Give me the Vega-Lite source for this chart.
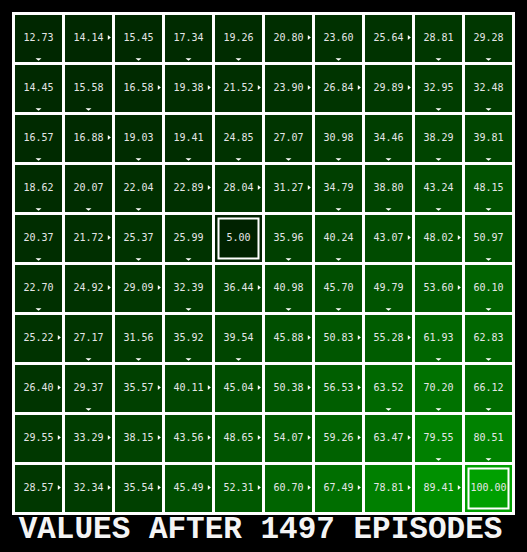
{
  "$schema": "https://vega.github.io/schema/vega-lite/v6.json",
  "width": 500,
  "height": 500,
  "autosize": {"type": "none"},
  "padding": {"left": 13.5, "top": 13.5, "right": 13.5, "bottom": 38.5},
  "background": "#000000",
  "config": {"view": {"stroke": null}},
  "title": {
    "text": "VALUES AFTER 1497 EPISODES",
    "orient": "bottom",
    "anchor": "middle",
    "font": "Liberation Mono",
    "fontSize": 31,
    "fontWeight": "bold",
    "color": "#f4f4f4",
    "baseline": "alphabetic",
    "offset": 23,
    "dx": -3
  },
  "data": {
    "values": [
      {"r": 0, "c": 0, "v": 12.73, "d": "D", "s": 0},
      {"r": 0, "c": 1, "v": 14.14, "d": "R", "s": 0},
      {"r": 0, "c": 2, "v": 15.45, "d": "D", "s": 0},
      {"r": 0, "c": 3, "v": 17.34, "d": "D", "s": 0},
      {"r": 0, "c": 4, "v": 19.26, "d": "D", "s": 0},
      {"r": 0, "c": 5, "v": 20.80, "d": "R", "s": 0},
      {"r": 0, "c": 6, "v": 23.60, "d": "D", "s": 0},
      {"r": 0, "c": 7, "v": 25.64, "d": "R", "s": 0},
      {"r": 0, "c": 8, "v": 28.81, "d": "D", "s": 0},
      {"r": 0, "c": 9, "v": 29.28, "d": "D", "s": 0},
      {"r": 1, "c": 0, "v": 14.45, "d": "D", "s": 0},
      {"r": 1, "c": 1, "v": 15.58, "d": "D", "s": 0},
      {"r": 1, "c": 2, "v": 16.58, "d": "R", "s": 0},
      {"r": 1, "c": 3, "v": 19.38, "d": "R", "s": 0},
      {"r": 1, "c": 4, "v": 21.52, "d": "R", "s": 0},
      {"r": 1, "c": 5, "v": 23.90, "d": "R", "s": 0},
      {"r": 1, "c": 6, "v": 26.84, "d": "R", "s": 0},
      {"r": 1, "c": 7, "v": 29.89, "d": "R", "s": 0},
      {"r": 1, "c": 8, "v": 32.95, "d": "D", "s": 0},
      {"r": 1, "c": 9, "v": 32.48, "d": "D", "s": 0},
      {"r": 2, "c": 0, "v": 16.57, "d": "D", "s": 0},
      {"r": 2, "c": 1, "v": 16.88, "d": "R", "s": 0},
      {"r": 2, "c": 2, "v": 19.03, "d": "D", "s": 0},
      {"r": 2, "c": 3, "v": 19.41, "d": "D", "s": 0},
      {"r": 2, "c": 4, "v": 24.85, "d": "D", "s": 0},
      {"r": 2, "c": 5, "v": 27.07, "d": "D", "s": 0},
      {"r": 2, "c": 6, "v": 30.98, "d": "D", "s": 0},
      {"r": 2, "c": 7, "v": 34.46, "d": "D", "s": 0},
      {"r": 2, "c": 8, "v": 38.29, "d": "D", "s": 0},
      {"r": 2, "c": 9, "v": 39.81, "d": "D", "s": 0},
      {"r": 3, "c": 0, "v": 18.62, "d": "D", "s": 0},
      {"r": 3, "c": 1, "v": 20.07, "d": "D", "s": 0},
      {"r": 3, "c": 2, "v": 22.04, "d": "D", "s": 0},
      {"r": 3, "c": 3, "v": 22.89, "d": "R", "s": 0},
      {"r": 3, "c": 4, "v": 28.04, "d": "R", "s": 0},
      {"r": 3, "c": 5, "v": 31.27, "d": "R", "s": 0},
      {"r": 3, "c": 6, "v": 34.79, "d": "D", "s": 0},
      {"r": 3, "c": 7, "v": 38.80, "d": "D", "s": 0},
      {"r": 3, "c": 8, "v": 43.24, "d": "D", "s": 0},
      {"r": 3, "c": 9, "v": 48.15, "d": "D", "s": 0},
      {"r": 4, "c": 0, "v": 20.37, "d": "D", "s": 0},
      {"r": 4, "c": 1, "v": 21.72, "d": "R", "s": 0},
      {"r": 4, "c": 2, "v": 25.37, "d": "D", "s": 0},
      {"r": 4, "c": 3, "v": 25.99, "d": "D", "s": 0},
      {"r": 4, "c": 4, "v": 5.00, "d": "N", "s": 1},
      {"r": 4, "c": 5, "v": 35.96, "d": "D", "s": 0},
      {"r": 4, "c": 6, "v": 40.24, "d": "D", "s": 0},
      {"r": 4, "c": 7, "v": 43.07, "d": "R", "s": 0},
      {"r": 4, "c": 8, "v": 48.02, "d": "R", "s": 0},
      {"r": 4, "c": 9, "v": 50.97, "d": "D", "s": 0},
      {"r": 5, "c": 0, "v": 22.70, "d": "D", "s": 0},
      {"r": 5, "c": 1, "v": 24.92, "d": "R", "s": 0},
      {"r": 5, "c": 2, "v": 29.09, "d": "R", "s": 0},
      {"r": 5, "c": 3, "v": 32.39, "d": "D", "s": 0},
      {"r": 5, "c": 4, "v": 36.44, "d": "R", "s": 0},
      {"r": 5, "c": 5, "v": 40.98, "d": "D", "s": 0},
      {"r": 5, "c": 6, "v": 45.70, "d": "D", "s": 0},
      {"r": 5, "c": 7, "v": 49.79, "d": "D", "s": 0},
      {"r": 5, "c": 8, "v": 53.60, "d": "R", "s": 0},
      {"r": 5, "c": 9, "v": 60.10, "d": "D", "s": 0},
      {"r": 6, "c": 0, "v": 25.22, "d": "R", "s": 0},
      {"r": 6, "c": 1, "v": 27.17, "d": "D", "s": 0},
      {"r": 6, "c": 2, "v": 31.56, "d": "D", "s": 0},
      {"r": 6, "c": 3, "v": 35.92, "d": "D", "s": 0},
      {"r": 6, "c": 4, "v": 39.54, "d": "D", "s": 0},
      {"r": 6, "c": 5, "v": 45.88, "d": "R", "s": 0},
      {"r": 6, "c": 6, "v": 50.83, "d": "R", "s": 0},
      {"r": 6, "c": 7, "v": 55.28, "d": "R", "s": 0},
      {"r": 6, "c": 8, "v": 61.93, "d": "D", "s": 0},
      {"r": 6, "c": 9, "v": 62.83, "d": "D", "s": 0},
      {"r": 7, "c": 0, "v": 26.40, "d": "R", "s": 0},
      {"r": 7, "c": 1, "v": 29.37, "d": "D", "s": 0},
      {"r": 7, "c": 2, "v": 35.57, "d": "R", "s": 0},
      {"r": 7, "c": 3, "v": 40.11, "d": "R", "s": 0},
      {"r": 7, "c": 4, "v": 45.04, "d": "R", "s": 0},
      {"r": 7, "c": 5, "v": 50.38, "d": "R", "s": 0},
      {"r": 7, "c": 6, "v": 56.53, "d": "R", "s": 0},
      {"r": 7, "c": 7, "v": 63.52, "d": "D", "s": 0},
      {"r": 7, "c": 8, "v": 70.20, "d": "D", "s": 0},
      {"r": 7, "c": 9, "v": 66.12, "d": "D", "s": 0},
      {"r": 8, "c": 0, "v": 29.55, "d": "R", "s": 0},
      {"r": 8, "c": 1, "v": 33.29, "d": "R", "s": 0},
      {"r": 8, "c": 2, "v": 38.15, "d": "R", "s": 0},
      {"r": 8, "c": 3, "v": 43.56, "d": "R", "s": 0},
      {"r": 8, "c": 4, "v": 48.65, "d": "R", "s": 0},
      {"r": 8, "c": 5, "v": 54.07, "d": "R", "s": 0},
      {"r": 8, "c": 6, "v": 59.26, "d": "R", "s": 0},
      {"r": 8, "c": 7, "v": 63.47, "d": "R", "s": 0},
      {"r": 8, "c": 8, "v": 79.55, "d": "D", "s": 0},
      {"r": 8, "c": 9, "v": 80.51, "d": "D", "s": 0},
      {"r": 9, "c": 0, "v": 28.57, "d": "R", "s": 0},
      {"r": 9, "c": 1, "v": 32.34, "d": "R", "s": 0},
      {"r": 9, "c": 2, "v": 35.54, "d": "R", "s": 0},
      {"r": 9, "c": 3, "v": 45.49, "d": "R", "s": 0},
      {"r": 9, "c": 4, "v": 52.31, "d": "R", "s": 0},
      {"r": 9, "c": 5, "v": 60.70, "d": "R", "s": 0},
      {"r": 9, "c": 6, "v": 67.49, "d": "R", "s": 0},
      {"r": 9, "c": 7, "v": 78.81, "d": "R", "s": 0},
      {"r": 9, "c": 8, "v": 89.41, "d": "R", "s": 0},
      {"r": 9, "c": 9, "v": 100.00, "d": "N", "s": 1}
    ]
  },
  "encoding": {
    "x": {"field": "c", "type": "ordinal", "axis": null, "scale": {"type": "band", "paddingInner": 0, "paddingOuter": 0}},
    "y": {"field": "r", "type": "ordinal", "axis": null, "scale": {"type": "band", "paddingInner": 0, "paddingOuter": 0}}
  },
  "layer": [
    {
      "mark": {"type": "rect", "stroke": "#ffffff", "strokeWidth": 3},
      "encoding": {
        "fill": {"field": "v", "type": "quantitative", "legend": null, "scale": {"domain": [0, 100], "range": ["#000000", "#00a000"]}}
      }
    },
    {
      "transform": [{"filter": "datum.s == 1"}],
      "mark": {"type": "point", "shape": "square", "size": 1600, "filled": false, "stroke": "#ffffff", "strokeWidth": 2, "opacity": 1}
    },
    {
      "mark": {"type": "text", "font": "DejaVu Sans Mono", "fontSize": 10, "color": "#e6e6e6", "baseline": "middle", "align": "center", "dy": -1},
      "encoding": {"text": {"field": "v", "type": "quantitative", "format": ".2f"}}
    },
    {
      "transform": [{"filter": "datum.d == 'D'"}],
      "mark": {"type": "point", "shape": "M-1,-0.4L1,-0.4L0,0.4Z", "size": 36, "filled": true, "fill": "#ffffff", "strokeWidth": 0, "opacity": 1, "yOffset": 21}
    },
    {
      "transform": [{"filter": "datum.d == 'R'"}],
      "mark": {"type": "point", "shape": "M-0.6,-1L0.6,0L-0.6,1Z", "size": 25, "filled": true, "fill": "#ffffff", "strokeWidth": 0, "opacity": 1, "xOffset": 20.8, "yOffset": -1}
    }
  ]
}
